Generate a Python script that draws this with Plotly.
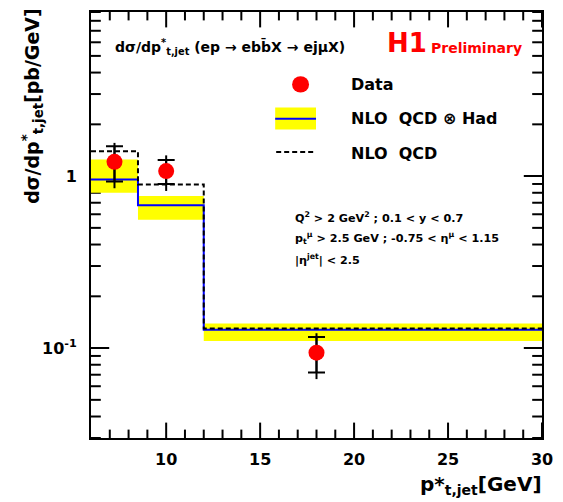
import plotly.graph_objects as go
import numpy as np

# ---------------- data ----------------
bin_edges = [6.0, 8.5, 12.0, 30.0]
nlo_had = [0.957, 0.677, 0.128]          # NLO QCD (x) Had, central
nlo_had_hi = [1.249, 0.766, 0.139]       # yellow band upper edge
nlo_had_lo = [0.800, 0.557, 0.110]       # yellow band lower edge
nlo_qcd = [1.395, 0.895, 0.130]          # NLO QCD (dashed)

data_x = [7.25, 10.0, 18.0]
data_y = [1.21, 1.07, 0.094]
stat_up = [0.28, 0.17, 0.022]
stat_dn = [0.28, 0.17, 0.022]
tot_up = [0.35, 0.25, 0.028]
tot_dn = [0.36, 0.25, 0.028]

x_major = [10, 15, 20, 25, 30]
x_minor = [7, 8, 9, 11, 12, 13, 14, 16, 17, 18, 19, 21, 22, 23, 24, 26, 27, 28, 29]
y_major = [0.1, 1]
y_major_text = ["10<sup>-1</sup>", "1"]
y_minor = [0.03, 0.04, 0.05, 0.06, 0.07, 0.08, 0.09,
           0.2, 0.3, 0.4, 0.5, 0.6, 0.7, 0.8, 0.9,
           2, 3, 4, 5, 6, 7, 8, 9]
x_range = [6, 30]
y_range = [0.03, 9.0]

FONT = "DejaVu Sans"

# ---------------- layout helpers (pixel -> paper) ----------------
W, H = 563, 502
L, R, T, B = 91, 19, 10, 64
PW, PH = W - L - R, H - T - B


def px(x):
    return (x - L) / PW


def py(y):
    return (H - B - y) / PH


ylog = [float(np.log10(y_range[0])), float(np.log10(y_range[1]))]

fig = go.Figure()

# ---------------- inside tick marks (line markers sitting on the frame, half clipped) ----
for vals, ln, axis in ((x_major, 11, "x"), (x_minor, 6, "x"),
                       (y_major, 13, "y"), (y_minor, 7, "y")):
    if axis == "x":
        tx = list(vals) + list(vals)
        ty = [y_range[0]] * len(vals) + [y_range[1]] * len(vals)
        sym = "line-ns"
    else:
        tx = [x_range[0]] * len(vals) + [x_range[1]] * len(vals)
        ty = list(vals) + list(vals)
        sym = "line-ew"
    fig.add_trace(go.Scatter(x=tx, y=ty, mode="markers", hoverinfo="skip",
                             cliponaxis=True,
                             marker=dict(symbol=sym, size=2 * ln, color="black",
                                         line=dict(color="black", width=2))))

# yellow band (one rectangle per bin)
bx, by = [], []
for i in range(len(nlo_had)):
    x0, x1 = bin_edges[i], bin_edges[i + 1]
    bx += [x0, x1, x1, x0, x0, None]
    by += [nlo_had_lo[i], nlo_had_lo[i], nlo_had_hi[i], nlo_had_hi[i], nlo_had_lo[i], None]
fig.add_trace(go.Scatter(x=bx, y=by, fill="toself", fillcolor="#ffff00",
                         line=dict(width=0), mode="lines", hoverinfo="skip"))

# blue NLO QCD x Had step line
fig.add_trace(go.Scatter(x=bin_edges, y=nlo_had + [nlo_had[-1]], mode="lines",
                         line=dict(color="#0000ff", width=2, shape="hv")))

# dashed NLO QCD step line
fig.add_trace(go.Scatter(x=bin_edges, y=nlo_qcd + [nlo_qcd[-1]], mode="lines",
                         line=dict(color="black", width=2, shape="hv", dash="5px,3px")))

# total errors (vertical line, no caps)
fig.add_trace(go.Scatter(x=data_x, y=data_y, mode="markers",
                         marker=dict(size=1, color="rgba(0,0,0,0)"),
                         error_y=dict(type="data", symmetric=False, array=tot_up,
                                      arrayminus=tot_dn, color="black",
                                      thickness=2, width=0)))
# statistical errors (caps)
fig.add_trace(go.Scatter(x=data_x, y=data_y, mode="markers",
                         marker=dict(size=1, color="rgba(0,0,0,0)"),
                         error_y=dict(type="data", symmetric=False, array=stat_up,
                                      arrayminus=stat_dn, color="black",
                                      thickness=2, width=8.5)))
# data points
fig.add_trace(go.Scatter(x=data_x, y=data_y, mode="markers",
                         marker=dict(size=16, color="#ff0000", symbol="circle")))

# ---------------- axes ----------------
common = dict(showgrid=False, zeroline=False, showline=True, linecolor="black",
              linewidth=2, mirror=True, ticks="")
tfont = dict(family=FONT, size=16, color="black", weight="bold")

fig.update_layout(
    xaxis=dict(**common, range=x_range, tickmode="array", tickvals=x_major,
               ticktext=[str(v) for v in x_major], tickfont=tfont, ticklabelstandoff=6),
    yaxis=dict(**common, type="log", range=ylog, tickmode="array", tickvals=y_major,
               ticktext=y_major_text, ticklabelstandoff=9, tickfont=tfont),
)

# ---------------- text ----------------
ann = []


def text(x, y, s, size, color="black", xanchor="left", yanchor="middle", angle=0):
    ann.append(dict(x=px(x), y=py(y), xref="paper", yref="paper", text=s,
                    showarrow=False, xanchor=xanchor, yanchor=yanchor, textangle=angle,
                    font=dict(family=FONT, size=size, color=color, weight="bold")))


text(113, 45, "dσ/dp<sup>*</sup><sub>t,jet</sub> (ep → ebb\u0304X → ejμX)", 14)
text(386, 41, "H1", 26, color="#ff0000")
text(431, 46, "Preliminary", 14, color="#ff0000")

text(350, 83, "Data", 16)
text(350, 117, "NLO  QCD ⊗ Had", 16)
text(350, 152, "NLO  QCD", 16)

text(294, 216, "Q<sup>2</sup> &gt; 2 GeV<sup>2</sup> ; 0.1 &lt; y &lt; 0.7", 11.2)
text(294, 237, "p<sub>t</sub><sup>μ</sup> &gt; 2.5 GeV ; -0.75 &lt; η<sup>μ</sup> &lt; 1.15", 11.2)
text(294, 259, "|η<sup>jet</sup>| &lt; 2.5", 11.2)

text(32, 104, "dσ/dp<sup>*</sup><sub>t,jet</sub>[pb/GeV]", 19, xanchor="center", angle=-90)
text(546, 470, "p*<sub>t,jet</sub>[GeV]", 20, xanchor="right", yanchor="top")

# ---------------- legend symbols ----------------
shapes = [
    dict(type="circle", xref="paper", yref="paper", x0=px(293), x1=px(310),
         y0=py(91), y1=py(74.5), fillcolor="#ff0000", line=dict(width=0)),
    dict(type="rect", xref="paper", yref="paper", x0=px(276), x1=px(317),
         y0=py(128), y1=py(106), fillcolor="#ffff00", line=dict(width=0)),
    dict(type="line", xref="paper", yref="paper", x0=px(276), x1=px(317),
         y0=py(117.3), y1=py(117.3), line=dict(color="#0000ff", width=2)),
    dict(type="line", xref="paper", yref="paper", x0=px(277), x1=px(317),
         y0=py(150.7), y1=py(150.7), line=dict(color="black", width=2, dash="5px,3px")),
]

fig.update_layout(width=W, height=H, margin=dict(l=L, r=R, t=T, b=B),
                  paper_bgcolor="white", plot_bgcolor="white", showlegend=False,
                  annotations=ann, shapes=shapes,
                  font=dict(family=FONT, color="black"))

fig.write_html("out.html")
